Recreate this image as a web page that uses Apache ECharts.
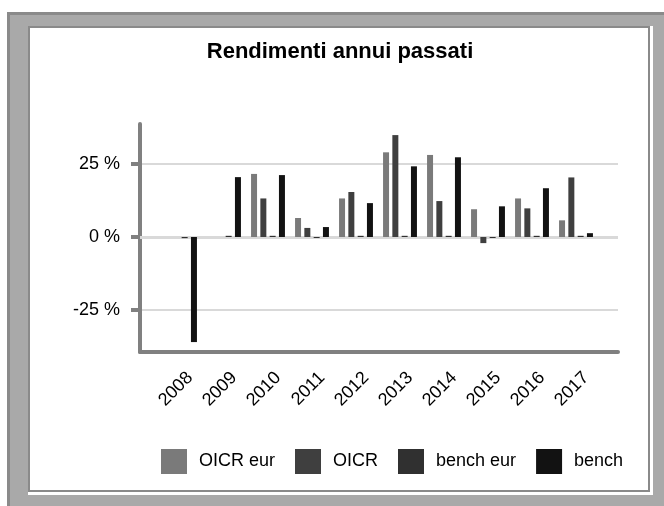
<!DOCTYPE html>
<html><head><meta charset="utf-8">
<script src="https://cdn.jsdelivr.net/npm/echarts@6/dist/echarts.min.js"></script>
<style>html,body{margin:0;padding:0;background:#fff}#c{width:664px;height:506px}</style>
</head><body><div id="c"></div>
<script>
// ---- data ----
const years = ['2008','2009','2010','2011','2012','2013','2014','2015','2016','2017'];
const oicrEur  = [null, null, 21.6, 6.5, 13.2, 29.0, 28.1, 9.5, 13.2, 5.7];
const oicr     = [null, null, 13.2, 3.1, 15.4, 34.9, 12.3, -2.1, 9.8, 20.4];
const benchEur = [-0.4, 0.4, 0.4, -0.3, 0.4, 0.4, 0.4, -0.3, 0.4, 0.4];
const bench    = [-36.0, 20.5, 21.2, 3.4, 11.6, 24.2, 27.3, 10.5, 16.7, 1.3];
const yTicks = [-25, 0, 25];
const seriesNames = ['OICR eur', 'OICR', 'bench eur', 'bench'];
const seriesData = [oicrEur, oicr, benchEur, bench];
const colors = ['#7a7a7a', '#3f3f3f', '#303030', '#121212'];

const Y_MIN = -39.4, Y_MAX = 38.7;
const FONT = '"Liberation Sans", Arial, sans-serif';

const chart = echarts.init(document.getElementById('c'), null, {renderer: 'canvas'});

const hiddenY = (gi) => ({gridIndex: gi, type: 'value', min: Y_MIN, max: Y_MAX, show: false,
  axisLine: {show: false}, axisTick: {show: false}, axisLabel: {show: false}, splitLine: {show: false}});

const option = {
  animation: false,
  backgroundColor: '#ffffff',
  textStyle: {fontFamily: FONT},
  graphic: [
    {type: 'rect', z: -10, silent: true, shape: {x: 7, y: 12, width: 657, height: 494}, style: {fill: '#a9a9a9'}},
    {type: 'rect', z: -9, silent: true, shape: {x: 7, y: 12, width: 657, height: 3}, style: {fill: '#8a8a8a'}},
    {type: 'rect', z: -9, silent: true, shape: {x: 7, y: 12, width: 3, height: 494}, style: {fill: '#8a8a8a'}},
    {type: 'rect', z: -8, silent: true, shape: {x: 28, y: 26, width: 625, height: 469}, style: {fill: '#ffffff'}},
    {type: 'rect', z: -7, silent: true, shape: {x: 28, y: 26, width: 622, height: 2}, style: {fill: '#8a8a8a'}},
    {type: 'rect', z: -7, silent: true, shape: {x: 28, y: 26, width: 2, height: 466}, style: {fill: '#8a8a8a'}},
    {type: 'rect', z: -7, silent: true, shape: {x: 648, y: 26, width: 2, height: 466}, style: {fill: '#8a8a8a'}},
    {type: 'rect', z: -7, silent: true, shape: {x: 28, y: 490, width: 622, height: 2}, style: {fill: '#8a8a8a'}}
  ],
  title: {
    text: 'Rendimenti annui passati', left: 340, top: 41, textAlign: 'center', padding: 0,
    textStyle: {fontSize: 22, fontWeight: 'bold', color: '#000', fontFamily: FONT}
  },
  legend: {
    left: 161, top: 449, padding: 0, itemWidth: 26, itemHeight: 25, itemGap: 20, icon: 'rect',
    data: seriesNames,
    textStyle: {fontSize: 18, color: '#000', fontFamily: FONT, padding: [0, 0, 0, 7]}
  },
  grid: [
    {left: 140, top: 124, width: 478, height: 228},
    {left: 158, top: 124, width: 440, height: 228},
    {left: 168, top: 124, width: 440, height: 228}
  ],
  xAxis: [
    {gridIndex: 0, type: 'value', min: 0, max: 1,
      axisLine: {show: true, onZero: false, lineStyle: {color: '#808080', width: 4}},
      axisTick: {show: false}, axisLabel: {show: false}, splitLine: {show: false}},
    {gridIndex: 1, type: 'category', data: years,
      axisLine: {show: false}, axisTick: {show: false}, axisLabel: {show: false}, splitLine: {show: false}},
    {gridIndex: 2, type: 'category', data: years,
      axisLine: {show: false}, axisTick: {show: false}, splitLine: {show: false},
      axisLabel: {rotate: 45, margin: 23, fontSize: 18, color: '#000', fontFamily: FONT, interval: 0}}
  ],
  yAxis: [
    {gridIndex: 0, type: 'value', min: Y_MIN, max: Y_MAX,
      axisLine: {show: true, onZero: false, lineStyle: {color: '#808080', width: 4}},
      axisTick: {show: true, length: 9, customValues: yTicks, lineStyle: {color: '#808080', width: 4}},
      axisLabel: {customValues: yTicks, formatter: (v) => v + ' %', margin: 20, fontSize: 18, color: '#000', fontFamily: FONT},
      splitLine: {show: true, lineStyle: {color: '#d9d9d9', width: 2}}},
    hiddenY(1),
    hiddenY(2)
  ],
  series: [
    {type: 'line', xAxisIndex: 0, yAxisIndex: 0, data: [], z: 1, silent: true,
      markLine: {silent: true, z: 1, symbol: 'none', label: {show: false},
        lineStyle: {color: '#d9d9d9', width: 3, type: 'solid'}, data: [{yAxis: 0}]}}
  ].concat(seriesNames.map((name, i) => ({
    name: name, type: 'bar', xAxisIndex: 1, yAxisIndex: 1,
    data: seriesData[i], barWidth: 6, barGap: '55%', z: 5, barMinHeight: 1,
    itemStyle: {color: colors[i]}
  })))
};
chart.setOption(option);
</script></body></html>
